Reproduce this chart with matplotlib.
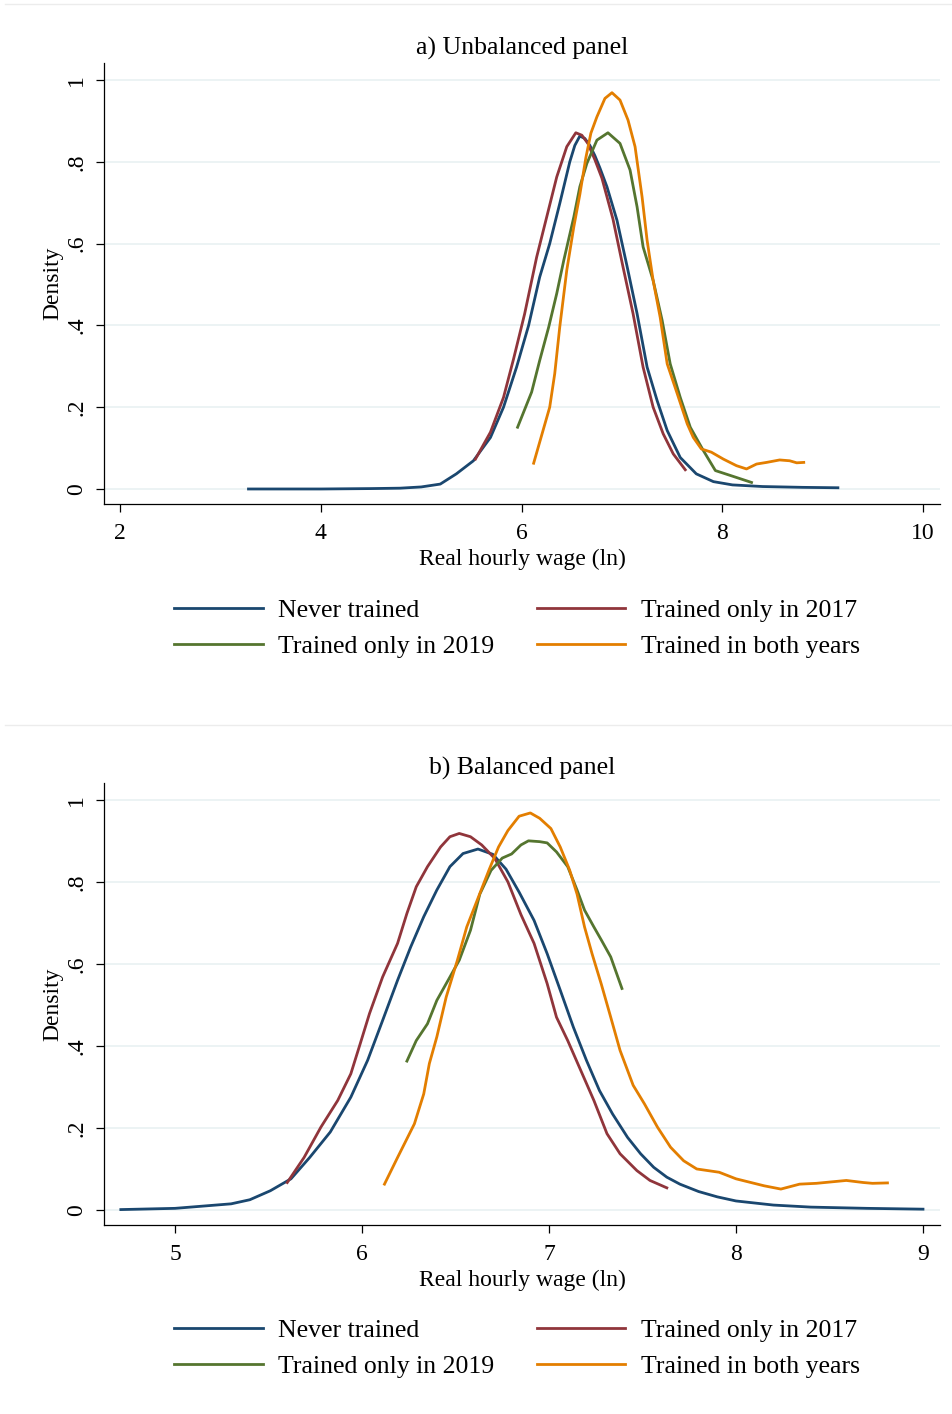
import numpy as np
import matplotlib
matplotlib.use("Agg")
import matplotlib.pyplot as plt
from matplotlib.lines import Line2D

plt.rcParams['font.family'] = ['Liberation Serif', 'DejaVu Serif']

NAVY = "#1a476f"
MAROON = "#90353b"
GREEN = "#55752f"
ORANGE = "#e37e00"
GRID = "#eaf2f3"

labels = ["Never trained", "Trained only in 2017", "Trained only in 2019", "Trained in both years"]

# a) Unbalanced panel - curves
a_never_x = [3.28, 4.0, 4.5, 4.79, 5.0, 5.19, 5.35, 5.52, 5.69, 5.82, 5.95, 6.07, 6.18, 6.28, 6.38, 6.48, 6.53, 6.58,
             6.63, 6.68, 6.73, 6.78, 6.85, 6.95, 7.05, 7.15, 7.25, 7.35, 7.45, 7.58, 7.74, 7.91, 8.1, 8.4, 8.8, 9.15]
a_never_y = [0.0, 0.0, 0.001, 0.002, 0.005, 0.012, 0.037, 0.069, 0.126, 0.2, 0.298, 0.4, 0.518, 0.6, 0.698, 0.8, 0.84, 0.863,
             0.857, 0.84, 0.815, 0.785, 0.739, 0.657, 0.545, 0.429, 0.298, 0.216, 0.143, 0.077, 0.037, 0.018, 0.01, 0.006, 0.004, 0.003]

a_2017_x = [5.54, 5.69, 5.82, 5.92, 6.03, 6.15, 6.25, 6.35, 6.45, 6.54, 6.6, 6.66, 6.73, 6.8, 6.91, 7.01, 7.11,
            7.21, 7.31, 7.41, 7.51, 7.63]
a_2017_y = [0.073, 0.139, 0.224, 0.318, 0.428, 0.567, 0.665, 0.763, 0.837, 0.871, 0.865, 0.845, 0.805, 0.76, 0.66, 0.543,
            0.429, 0.298, 0.2, 0.135, 0.086, 0.047]

a_2019_x = [5.96, 6.1, 6.18, 6.27, 6.35, 6.42, 6.52, 6.58, 6.65, 6.75, 6.86, 6.98, 7.08, 7.15, 7.21, 7.31, 7.4, 7.48,
            7.58, 7.68, 7.81, 7.93, 8.08, 8.29]
a_2019_y = [0.151, 0.237, 0.314, 0.396, 0.478, 0.559, 0.665, 0.739, 0.796, 0.853, 0.871, 0.845, 0.78, 0.69, 0.592, 0.51,
            0.412, 0.306, 0.224, 0.151, 0.094, 0.045, 0.033, 0.016]

a_both_x = [6.12, 6.28, 6.33, 6.38, 6.45, 6.52, 6.58, 6.64, 6.69, 6.75, 6.83, 6.9, 6.98, 7.06, 7.13, 7.2, 7.25, 7.31,
            7.38, 7.45, 7.55, 7.65, 7.71, 7.79, 7.89, 8.01, 8.14, 8.24, 8.34, 8.44, 8.57, 8.67, 8.74, 8.81]
a_both_y = [0.063, 0.2, 0.282, 0.396, 0.535, 0.641, 0.72, 0.81, 0.87, 0.91, 0.955, 0.969, 0.951, 0.902, 0.837, 0.714, 0.608,
            0.51, 0.42, 0.306, 0.233, 0.159, 0.126, 0.098, 0.09, 0.073, 0.057, 0.049, 0.061, 0.065, 0.071, 0.069, 0.064, 0.065]

# b) Balanced panel
b_never_x = [4.71, 5.0, 5.3, 5.4, 5.51, 5.62, 5.72, 5.83, 5.94, 6.03, 6.11, 6.19, 6.26, 6.33, 6.4, 6.47, 6.54, 6.62,
             6.7, 6.77, 6.84, 6.92, 6.99, 7.06, 7.13, 7.2, 7.27, 7.34, 7.42, 7.49, 7.56, 7.63, 7.7, 7.8, 7.9, 8.0,
             8.2, 8.4, 8.7, 9.0]
b_never_y = [0.001, 0.004, 0.015, 0.025, 0.047, 0.076, 0.128, 0.19, 0.275, 0.365, 0.462, 0.56, 0.641, 0.715, 0.78, 0.837,
             0.869, 0.88, 0.867, 0.831, 0.775, 0.706, 0.625, 0.536, 0.446, 0.365, 0.291, 0.234, 0.177, 0.137, 0.104,
             0.08, 0.063, 0.045, 0.032, 0.022, 0.012, 0.007, 0.004, 0.002]

b_2017_x = [5.6, 5.69, 5.78, 5.87, 5.94, 5.99, 6.04, 6.11, 6.19, 6.24, 6.29, 6.35, 6.42, 6.47, 6.52, 6.58, 6.64, 6.71,
            6.78, 6.85, 6.92, 6.99, 7.04, 7.1, 7.17, 7.24, 7.31, 7.38, 7.47, 7.54, 7.63]
b_2017_y = [0.067, 0.128, 0.202, 0.267, 0.332, 0.405, 0.479, 0.568, 0.65, 0.723, 0.788, 0.837, 0.885, 0.91, 0.918, 0.91,
            0.89, 0.857, 0.8, 0.72, 0.65, 0.552, 0.47, 0.413, 0.34, 0.267, 0.186, 0.137, 0.096, 0.072, 0.054]

b_2019_x = [6.24, 6.29, 6.35, 6.4, 6.47, 6.52, 6.58, 6.63, 6.69, 6.75, 6.8, 6.85, 6.89, 6.95, 6.99, 7.04, 7.1, 7.15,
            7.19, 7.24, 7.28, 7.33, 7.39]
b_2019_y = [0.363, 0.413, 0.454, 0.511, 0.568, 0.609, 0.682, 0.77, 0.828, 0.858, 0.868, 0.89, 0.9, 0.898, 0.895, 0.873,
            0.837, 0.78, 0.731, 0.69, 0.658, 0.617, 0.54]

b_both_x = [6.12, 6.19, 6.28, 6.33, 6.36, 6.4, 6.45, 6.51, 6.56, 6.62, 6.68, 6.73, 6.78, 6.84, 6.9, 6.95, 7.01, 7.06,
            7.11, 7.15, 7.19, 7.23, 7.28, 7.33, 7.38, 7.45, 7.51, 7.58, 7.65, 7.72, 7.79, 7.91, 8.0, 8.15, 8.24, 8.34,
            8.43, 8.59, 8.68, 8.73, 8.81]
b_both_y = [0.063, 0.128, 0.21, 0.283, 0.357, 0.422, 0.519, 0.609, 0.69, 0.76, 0.83, 0.885, 0.925, 0.96, 0.968, 0.955,
            0.93, 0.885, 0.829, 0.77, 0.69, 0.625, 0.55, 0.47, 0.389, 0.304, 0.259, 0.202, 0.153, 0.12, 0.1, 0.092,
            0.076, 0.059, 0.051, 0.063, 0.065, 0.072, 0.067, 0.065, 0.066]

a_xticks = [2, 4, 6, 8, 10]
b_xticks = [5, 6, 7, 8, 9]
yticks = [0, 0.2, 0.4, 0.6, 0.8, 1.0]
ytick_labels = ["0", ".2", ".4", ".6", ".8", "1"]

W, H = 952, 1414
fig = plt.figure(figsize=(W / 100, H / 100), dpi=100)


def panel(top_px, bottom_px, xlim, ylim, xticks, series, title, legend_top_px):
    ax = fig.add_axes([104 / W, 1 - bottom_px / H, 836 / W, (bottom_px - top_px) / H])
    handles = []
    for (xs, ys), col, lab in zip(series, [NAVY, MAROON, GREEN, ORANGE], labels):
        h, = ax.plot(xs, ys, color=col, lw=2.0, solid_joinstyle='round', label=lab)
        handles.append(h)
    ax.set_xlim(*xlim)
    ax.set_ylim(*ylim)
    ax.set_xticks(xticks)
    ax.set_xticklabels([str(t) for t in xticks])
    ax.set_yticks(yticks)
    ax.set_yticklabels(ytick_labels, rotation=90, va='center')
    ax.grid(axis='y', color=GRID, lw=1.3)
    ax.set_axisbelow(True)
    for s in ['top', 'right']:
        ax.spines[s].set_visible(False)
    for s in ['left', 'bottom']:
        ax.spines[s].set_linewidth(0.9)
    ax.tick_params(length=6, width=0.9, labelsize=17)
    ax.tick_params(axis='x', pad=8)
    ax.tick_params(axis='y', pad=6)
    ax.set_xlabel("Real hourly wage (ln)", fontsize=17, labelpad=3)
    ax.set_ylabel("Density", fontsize=17, labelpad=2)
    ax.set_title(title, fontsize=18.5, pad=6)
    order = [0, 2, 1, 3]
    fig.legend([handles[i] for i in order], [labels[i] for i in order], ncol=2, frameon=False,
               loc='upper center', bbox_to_anchor=(517 / W, 1 - legend_top_px / H), fontsize=18.5,
               handlelength=3.45, handletextpad=0.6, columnspacing=1.65, labelspacing=0.53, borderpad=0)
    return ax


panel(63, 504, (1.841, 10.167), (-0.0367, 1.0416), a_xticks,
      [(a_never_x, a_never_y), (a_2017_x, a_2017_y), (a_2019_x, a_2019_y), (a_both_x, a_both_y)],
      "a) Unbalanced panel", 586)
panel(783, 1225, (4.620, 9.091), (-0.0366, 1.041), b_xticks,
      [(b_never_x, b_never_y), (b_2017_x, b_2017_y), (b_2019_x, b_2019_y), (b_both_x, b_both_y)],
      "b) Balanced panel", 1306)

# faint separators between the combined graphs
for ypx in [4, 725]:
    fig.add_artist(Line2D([5 / W, 1], [1 - ypx / H] * 2, color="#ececec", lw=1))

fig.savefig("out.png", dpi=100)
